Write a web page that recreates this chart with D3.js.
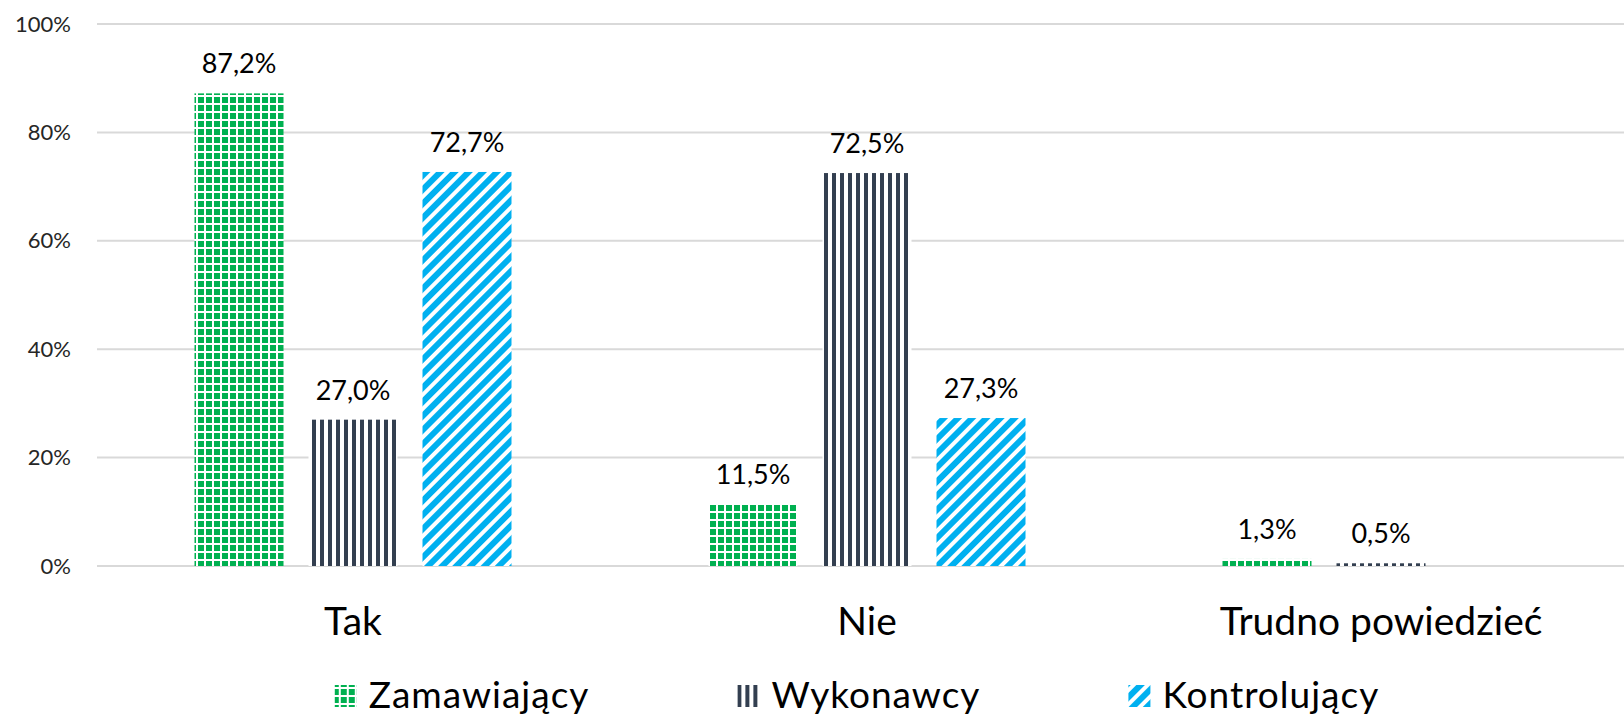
<!DOCTYPE html>
<html>
<head>
<meta charset="utf-8">
<script src="https://cdn.jsdelivr.net/npm/d3@7"></script>
<style>
  body { margin: 0; background: #fff; }
  text { font-family: Lato, "Open Sans", sans-serif; }
</style>
</head>
<body>
<div id="canvas"></div>
<script>
const categories = ['Tak', 'Nie', 'Trudno powiedzieć'];
const seriesNames = ['Zamawiający', 'Wykonawcy', 'Kontrolujący'];
const zamawiajacy = [87.2, 11.5, 1.3];
const wykonawcy = [27.0, 72.5, 0.5];
const kontrolujacy = [72.7, 27.3, null];
const yTicks = [0, 20, 40, 60, 80, 100];

const W = 1624, H = 716;
const PLOT = { LEFT: 96, BAND: 514, TOP: 24, BOTTOM: 566 };

const svg = d3.select('#canvas').append('svg')
  .attr('width', W)
  .attr('height', H);

const defs = svg.append('defs');

// green small grid
const pGreen = defs.append('pattern')
  .attr('id', 'p-zam').attr('patternUnits', 'userSpaceOnUse')
  .attr('x', 6).attr('y', 1)
  .attr('width', 8).attr('height', 8);
pGreen.append('rect').attr('width', 8).attr('height', 8).attr('fill', '#fff');
pGreen.append('rect').attr('width', 6).attr('height', 6).attr('fill', '#00b050');

// dark vertical stripes
const pDark = defs.append('pattern')
  .attr('id', 'p-wyk').attr('patternUnits', 'userSpaceOnUse')
  .attr('width', 8).attr('height', 8);
pDark.append('rect').attr('width', 8).attr('height', 8).attr('fill', '#fff');
pDark.append('rect').attr('x', 0).attr('width', 4).attr('height', 8).attr('fill', '#333f50');

// blue wide upward diagonal
const pBlue = defs.append('pattern')
  .attr('id', 'p-kon').attr('patternUnits', 'userSpaceOnUse')
  .attr('width', 10).attr('height', 10)
  .attr('patternTransform', 'rotate(45)');
pBlue.append('rect').attr('width', 10).attr('height', 10).attr('fill', '#fff');
pBlue.append('rect').attr('width', 6).attr('height', 10).attr('fill', '#00b0f0');

const fills = ['url(#p-zam)', 'url(#p-wyk)', 'url(#p-kon)'];
const values = [zamawiajacy, wykonawcy, kontrolujacy];

const y = d3.scaleLinear()
  .domain([0, 100])
  .range([PLOT.BOTTOM, PLOT.TOP]);

const x = d3.scaleBand()
  .domain(categories)
  .range([PLOT.LEFT, PLOT.LEFT + PLOT.BAND * categories.length]);

const xs = d3.scaleBand()
  .domain(seriesNames)
  .range([-171, 171])
  .paddingInner(25 / 114)
  .paddingOuter(25 / 228);

// gridlines
svg.append('g')
  .selectAll('line')
  .data(yTicks)
  .join('line')
    .attr('x1', 97)
    .attr('x2', W)
    .attr('y1', d => y(d))
    .attr('y2', d => y(d))
    .attr('stroke', '#d9d9d9')
    .attr('stroke-width', 2);

// y tick labels
const yAxis = svg.append('g')
  .attr('transform', 'translate(71,0)')
  .call(d3.axisLeft(y).tickValues(yTicks).tickSize(0).tickPadding(0).tickFormat(d => d + '%'));
yAxis.select('.domain').remove();
yAxis.selectAll('text')
  .attr('font-family', 'Lato, sans-serif')
  .attr('font-size', 22)
  .attr('fill', '#262626');

const fmt = v => d3.format('.1f')(v).replace('.', ',') + '%';

const rows = [];
seriesNames.forEach((s, i) => {
  categories.forEach((c, j) => {
    if (values[i][j] != null) rows.push({ s, c, v: values[i][j], i });
  });
});

const cx = d => x(d.c) + x.bandwidth() / 2 + xs(d.s);

svg.append('g')
  .selectAll('rect')
  .data(rows)
  .join('rect')
    .attr('x', cx)
    .attr('y', d => y(d.v))
    .attr('width', xs.bandwidth())
    .attr('height', d => y(0) - y(d.v))
    .attr('fill', d => fills[d.i]);

svg.append('g')
  .selectAll('text')
  .data(rows)
  .join('text')
    .attr('x', d => cx(d) + xs.bandwidth() / 2)
    .attr('y', d => y(d.v) - 20)
    .attr('text-anchor', 'middle')
    .attr('font-size', 27)
    .attr('fill', '#000')
    .text(d => fmt(d.v));

// category labels
svg.append('g')
  .selectAll('text')
  .data(categories)
  .join('text')
    .attr('x', d => x(d) + x.bandwidth() / 2)
    .attr('y', 635)
    .attr('text-anchor', 'middle')
    .attr('font-size', 39)
    .attr('fill', '#000')
    .text(d => d);

// legend
const legend = svg.append('g');
const items = legend.selectAll('g')
  .data(seriesNames)
  .join('g');
items.append('rect')
  .attr('width', 22).attr('height', 22)
  .attr('y', 685)
  .attr('fill', (d, i) => fills[i]);
items.append('text')
  .attr('x', 34)
  .attr('y', 708)
  .attr('font-size', 37)
  .attr('letter-spacing', 1)
  .attr('fill', '#000')
  .text(d => d);

let widths = [];
items.each(function() {
  widths.push(34 + this.querySelector('text').getComputedTextLength());
});
const GAP = 148;
const total = d3.sum(widths) + GAP * (widths.length - 1);
let pos = 857 - total / 2;
items.attr('transform', (d, i) => {
  const t = `translate(${pos},0)`;
  pos += widths[i] + GAP;
  return t;
});
</script>
</body>
</html>
